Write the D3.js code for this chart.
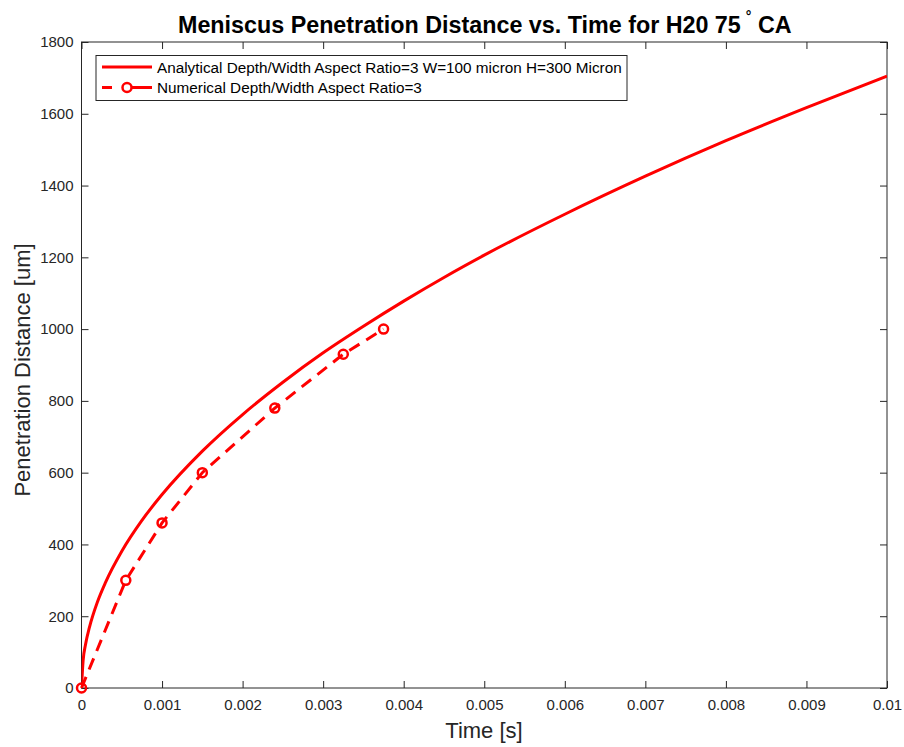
<!DOCTYPE html>
<html><head><meta charset="utf-8">
<script src="https://cdn.jsdelivr.net/npm/d3@7/dist/d3.min.js"></script>
<style>body{margin:0;background:#fff;} text{font-family:"Liberation Sans",Arial,Helvetica,sans-serif;}</style>
</head><body><svg id="c" width="904" height="747"></svg>
<script>
const analyticalT = [0,0.00002,0.00005,0.0001,0.0002,0.0003,0.0005,0.00075,0.001,0.0015,0.002,0.0025,0.003,0.0035,0.004,0.0045,0.005,0.006,0.007,0.008,0.009,0.01];
const analyticalY = [0,76,121,170,241,295,381,467,539,660,762,852,934,1008,1078,1144,1206,1320,1426,1525,1617,1705];
const numericalT = [0,0.00055,0.001,0.0015,0.0024,0.00325,0.00375];
const numericalY = [0,300,460,600,780,930,1000];
const xTicks = [0,0.001,0.002,0.003,0.004,0.005,0.006,0.007,0.008,0.009,0.01];
const xTickLabels = ["0","0.001","0.002","0.003","0.004","0.005","0.006","0.007","0.008","0.009","0.01"];
const yTicks = [0,200,400,600,800,1000,1200,1400,1600,1800];
const legendLabels = ["Analytical Depth/Width Aspect Ratio=3 W=100 micron H=300 Micron","Numerical Depth/Width Aspect Ratio=3"];

const svg = d3.select("#c");
const L=81.5,R=887,T=42,B=688;
const x = d3.scaleLinear().domain([0,0.01]).range([L,R]);
const y = d3.scaleLinear().domain([0,1800]).range([B,T]);
const axCol="#262626";
const g = svg.append("g");

g.append("rect").attr("x",L).attr("y",T).attr("width",R-L).attr("height",B-T).attr("fill","none").attr("stroke",axCol).attr("stroke-width",1);
const xa = g.append("g").attr("transform",`translate(0,${B})`).call(d3.axisBottom(x).tickValues(xTicks).tickSize(-7).tickPadding(11).tickFormat((d,i)=>xTickLabels[i]));
const xt = g.append("g").attr("transform",`translate(0,${T})`).call(d3.axisTop(x).tickValues(xTicks).tickSize(-7).tickFormat(""));
const ya = g.append("g").attr("transform",`translate(${L},0)`).call(d3.axisLeft(y).tickValues(yTicks).tickSize(-7).tickPadding(8).tickFormat(d3.format("d")));
const yr = g.append("g").attr("transform",`translate(${R},0)`).call(d3.axisRight(y).tickValues(yTicks).tickSize(-7).tickFormat(""));
[xa,xt,ya,yr].forEach(a=>{a.select(".domain").remove();a.selectAll("line").attr("stroke",axCol);a.selectAll("text").attr("fill",axCol).style("font-size","15px").style("font-family","Liberation Sans, Arial, sans-serif");});

const line = d3.line().x(d=>x(d[0])).y(d=>y(d[1])).curve(d3.curveMonotoneX);
const aData = analyticalT.map((t,i)=>[t,analyticalY[i]]);
const nData = numericalT.map((t,i)=>[t,numericalY[i]]);
svg.append("clipPath").attr("id","cp").append("rect").attr("x",L).attr("y",T).attr("width",R-L).attr("height",B-T);
g.append("path").datum(aData).attr("d",line).attr("fill","none").attr("stroke","#ff0000").attr("stroke-width",3).attr("clip-path","url(#cp)");
g.append("path").datum(nData).attr("d",d3.line().x(d=>x(d[0])).y(d=>y(d[1]))).attr("fill","none").attr("stroke","#ff0000").attr("stroke-width",3).attr("stroke-dasharray","12,8");
g.selectAll(".m").data(nData).enter().append("circle").attr("cx",d=>x(d[0])).attr("cy",d=>y(d[1])).attr("r",4.5).attr("fill","none").attr("stroke","#ff0000").attr("stroke-width",2.5);

// title
const tt = svg.append("text").attr("x",178).attr("y",33).style("font-size","23.3px").style("font-weight","bold").attr("fill","#000");
tt.append("tspan").text("Meniscus Penetration Distance vs. Time for H20 75");
tt.append("tspan").attr("dx",5).attr("dy",-12).style("font-size","14px").text("°");
tt.append("tspan").attr("dy",12).text(" CA");

svg.append("text").attr("x",484).attr("y",738).attr("text-anchor","middle").style("font-size","22px").attr("fill",axCol).text("Time [s]");
svg.append("text").attr("transform","translate(30,370) rotate(-90)").attr("text-anchor","middle").style("font-size","22px").attr("fill",axCol).text("Penetration Distance [um]");

const lg = svg.append("g");
lg.append("rect").attr("x",96).attr("y",55.5).attr("width",531).attr("height",45).attr("fill","#fff").attr("stroke",axCol).attr("stroke-width",1);
lg.append("line").attr("x1",102).attr("x2",152).attr("y1",67).attr("y2",67).attr("stroke","#ff0000").attr("stroke-width",3);
lg.append("line").attr("x1",102).attr("x2",152).attr("y1",87.5).attr("y2",87.5).attr("stroke","#ff0000").attr("stroke-width",3).attr("stroke-dasharray","10,30");
lg.append("circle").attr("cx",127).attr("cy",87.5).attr("r",4.5).attr("fill","#fff").attr("stroke","#ff0000").attr("stroke-width",2.5);
lg.append("line").attr("x1",132).attr("x2",142).attr("y1",87.5).attr("y2",87.5).attr("stroke","#ff0000").attr("stroke-width",3);
legendLabels.forEach((t,i)=>lg.append("text").attr("x",157).attr("y",73+i*20).style("font-size","15.3px").attr("fill","#000").text(t));
</script></body></html>
